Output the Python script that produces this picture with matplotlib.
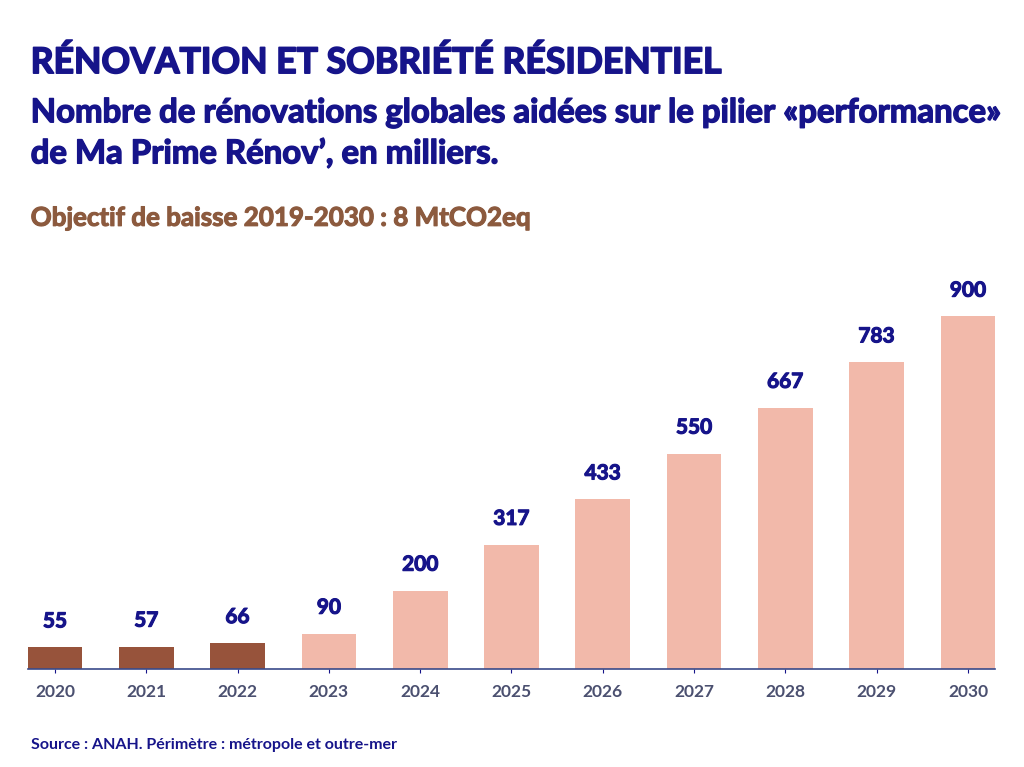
import matplotlib.pyplot as plt
import matplotlib.patheffects as pe
import numpy as np

years = ["2020", "2021", "2022", "2023", "2024", "2025", "2026", "2027", "2028", "2029", "2030"]
values = [55, 57, 66, 90, 200, 317, 433, 550, 667, 783, 900]
n_actual = 3  # 2020-2022 realised, the rest are targets

navy = "#16148a"
brown = "#97533b"
pink = "#f2b9aa"

plt.rcParams['font.family'] = ['Lato', 'DejaVu Sans']


def thick(c, w=0.9):
    return [pe.withStroke(linewidth=w, foreground=c)]


fig = plt.figure(figsize=(10.24, 7.67), dpi=100)
ax = fig.add_axes([0.027, 0.128, 0.945, 0.49])

x = np.arange(len(years))
colors = [brown if i < n_actual else pink for i in range(len(years))]
ax.bar(x, values, width=0.6, color=colors)

for xi, v in zip(x, values):
    ax.text(xi, v + 66, str(v), ha="center", va="center", fontsize=15,
            fontweight="bold", color=navy, path_effects=thick(navy, 0.8))

ax.set_xticks(x)
ax.set_xticklabels(years, fontsize=12.5, fontweight="bold", color="#4b5070")
ax.tick_params(axis="x", length=3, color=navy, pad=8)
ax.set_yticks([])
ax.set_ylim(0, 960)
ax.set_xlim(-0.3, len(years) - 0.7)
for s in ["top", "right", "left"]:
    ax.spines[s].set_visible(False)
ax.spines["bottom"].set_color("#3a4a8a")
ax.spines["bottom"].set_linewidth(1.2)

fig.text(0.03, 0.919, "RÉNOVATION ET SOBRIÉTÉ RÉSIDENTIEL", fontsize=25.6,
         fontweight="bold", color=navy, va="center", path_effects=thick(navy, 1.2))
fig.text(0.03, 0.853, "Nombre de rénovations globales aidées sur le pilier «performance»",
         fontsize=23.7, fontweight="bold", color=navy, va="center",
         path_effects=thick(navy, 1.0))
fig.text(0.03, 0.800, "de Ma Prime Rénov’, en milliers.", fontsize=23.7,
         fontweight="bold", color=navy, va="center", path_effects=thick(navy, 1.0))
fig.text(0.03, 0.716, "Objectif de baisse 2019-2030 : 8 MtCO2eq", fontsize=18.7,
         fontweight="bold", color="#8c5a3e", va="center",
         path_effects=thick("#8c5a3e", 0.8))
fig.text(0.03, 0.029, "Source : ANAH. Périmètre : métropole et outre-mer",
         fontsize=11.5, fontweight="bold", color=navy, va="center")

fig.savefig("out.png", dpi=100)
